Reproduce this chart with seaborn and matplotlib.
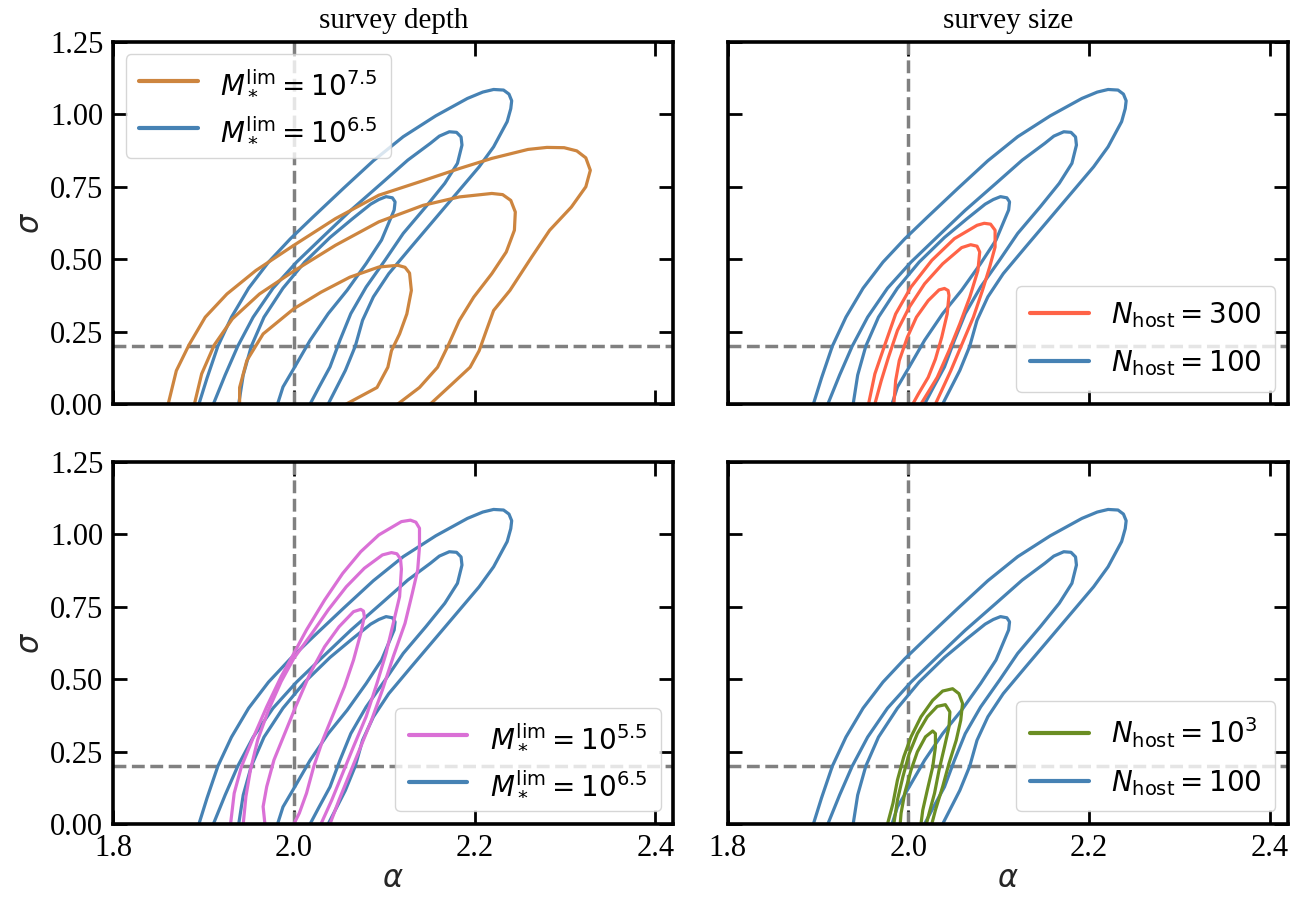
import matplotlib
matplotlib.use("Agg")
import matplotlib.pyplot as plt
from matplotlib.lines import Line2D
from matplotlib.ticker import FormatStrFormatter
import seaborn as sns

# contour outlines: (alpha, sigma) points, outer -> inner level
# baseline run (M_lim = 10^6.5, N_host = 100), shown in every panel
base_alpha = [
    [1.895, 1.904, 1.916, 1.931, 1.950, 1.972, 1.996, 2.021, 2.055, 2.088, 2.121, 2.157, 2.192, 2.209, 2.221, 2.232, 2.238, 2.241, 2.240, 2.236, 2.221, 2.205, 2.180, 2.155, 2.130, 2.105, 2.088, 2.076, 2.068, 2.057, 2.038],
    [1.911, 1.924, 1.938, 1.955, 1.977, 2.003, 2.033, 2.063, 2.097, 2.126, 2.151, 2.161, 2.172, 2.180, 2.185, 2.186, 2.181, 2.167, 2.146, 2.121, 2.101, 2.080, 2.063, 2.051, 2.040, 2.028, 2.018],
    [1.939, 1.944, 1.953, 1.967, 1.988, 2.012, 2.040, 2.065, 2.085, 2.094, 2.102, 2.109, 2.112, 2.111, 2.097, 2.080, 2.059, 2.038, 2.018, 2.001, 1.988, 1.982],
]
base_sigma = [
    [0.0, 0.09, 0.20, 0.30, 0.40, 0.49, 0.57, 0.645, 0.745, 0.84, 0.923, 0.995, 1.055, 1.077, 1.086, 1.084, 1.070, 1.047, 1.020, 0.975, 0.888, 0.819, 0.727, 0.635, 0.543, 0.45, 0.37, 0.289, 0.20, 0.116, 0.0],
    [0.0, 0.10, 0.20, 0.30, 0.40, 0.49, 0.58, 0.669, 0.762, 0.842, 0.900, 0.925, 0.940, 0.938, 0.922, 0.894, 0.831, 0.762, 0.681, 0.589, 0.497, 0.404, 0.312, 0.220, 0.128, 0.059, 0.0],
    [0.0, 0.10, 0.20, 0.30, 0.40, 0.49, 0.575, 0.64, 0.69, 0.706, 0.716, 0.712, 0.698, 0.670, 0.566, 0.485, 0.393, 0.312, 0.220, 0.128, 0.059, 0.0],
]

# M_lim = 10^7.5
deep_alpha = [
    [1.861, 1.870, 1.884, 1.902, 1.926, 1.958, 2.0, 2.046, 2.094, 2.139, 2.183, 2.219, 2.259, 2.280, 2.299, 2.313, 2.323, 2.328, 2.323, 2.307, 2.283, 2.263, 2.239, 2.221, 2.213, 2.205, 2.195, 2.175, 2.151],
    [1.890, 1.898, 1.912, 1.932, 1.962, 2.0, 2.046, 2.094, 2.143, 2.183, 2.219, 2.231, 2.240, 2.245, 2.244, 2.235, 2.219, 2.199, 2.183, 2.171, 2.159, 2.139, 2.115],
    [1.940, 1.940, 1.948, 1.966, 2.0, 2.030, 2.062, 2.094, 2.115, 2.123, 2.128, 2.130, 2.125, 2.117, 2.108, 2.104, 2.092, 2.058],
]
deep_sigma = [
    [0.0, 0.115, 0.204, 0.300, 0.380, 0.461, 0.548, 0.640, 0.721, 0.767, 0.813, 0.848, 0.879, 0.886, 0.885, 0.874, 0.850, 0.807, 0.750, 0.680, 0.600, 0.507, 0.392, 0.323, 0.254, 0.184, 0.127, 0.069, 0.0],
    [0.0, 0.104, 0.204, 0.294, 0.380, 0.459, 0.548, 0.629, 0.686, 0.715, 0.727, 0.723, 0.703, 0.663, 0.600, 0.525, 0.450, 0.369, 0.288, 0.204, 0.127, 0.057, 0.0],
    [0.0, 0.057, 0.150, 0.242, 0.329, 0.386, 0.438, 0.473, 0.479, 0.472, 0.452, 0.392, 0.311, 0.242, 0.184, 0.127, 0.057, 0.0],
]

# N_host = 300
n300_alpha = [
    [1.956, 1.963, 1.974, 1.986, 2.003, 2.026, 2.051, 2.076, 2.084, 2.091, 2.096, 2.096, 2.090, 2.082, 2.072, 2.059, 2.047, 2.030],
    [1.963, 1.970, 1.978, 1.988, 2.001, 2.018, 2.038, 2.059, 2.069, 2.076, 2.079, 2.077, 2.068, 2.057, 2.045, 2.032, 2.014],
    [1.984, 1.986, 1.990, 1.999, 2.009, 2.022, 2.034, 2.040, 2.044, 2.045, 2.043, 2.037, 2.030, 2.022, 2.011, 2.005],
]
n300_sigma = [
    [0.0, 0.104, 0.204, 0.311, 0.404, 0.496, 0.571, 0.617, 0.624, 0.621, 0.600, 0.542, 0.473, 0.392, 0.300, 0.204, 0.115, 0.0],
    [0.0, 0.080, 0.161, 0.254, 0.334, 0.415, 0.484, 0.540, 0.550, 0.545, 0.525, 0.461, 0.369, 0.277, 0.184, 0.092, 0.0],
    [0.0, 0.081, 0.150, 0.231, 0.300, 0.357, 0.394, 0.399, 0.392, 0.375, 0.311, 0.231, 0.155, 0.092, 0.034, 0.0],
]

# M_lim = 10^5.5
shallow_alpha = [
    [1.930, 1.934, 1.942, 1.954, 1.970, 1.986, 2.0, 2.014, 2.034, 2.054, 2.074, 2.094, 2.119, 2.129, 2.135, 2.139, 2.139, 2.137, 2.131, 2.123, 2.110, 2.098, 2.086, 2.074, 2.062, 2.050, 2.040],
    [1.944, 1.947, 1.952, 1.960, 1.972, 1.986, 2.0, 2.020, 2.038, 2.058, 2.078, 2.098, 2.108, 2.114, 2.118, 2.119, 2.117, 2.110, 2.102, 2.092, 2.080, 2.066, 2.054, 2.042, 2.030],
    [1.968, 1.966, 1.970, 1.978, 1.990, 2.002, 2.018, 2.034, 2.050, 2.066, 2.074, 2.077, 2.078, 2.074, 2.066, 2.056, 2.044, 2.032, 2.022, 2.014, 2.006, 2.0],
]
shallow_sigma = [
    [0.0, 0.106, 0.198, 0.290, 0.405, 0.509, 0.589, 0.670, 0.773, 0.865, 0.940, 0.998, 1.044, 1.049, 1.042, 1.021, 0.957, 0.877, 0.796, 0.693, 0.578, 0.463, 0.359, 0.267, 0.175, 0.083, 0.0],
    [0.0, 0.095, 0.187, 0.290, 0.394, 0.492, 0.572, 0.658, 0.739, 0.819, 0.883, 0.929, 0.937, 0.933, 0.915, 0.880, 0.785, 0.693, 0.589, 0.486, 0.371, 0.267, 0.175, 0.083, 0.0],
    [0.0, 0.060, 0.129, 0.221, 0.313, 0.405, 0.520, 0.612, 0.681, 0.733, 0.741, 0.735, 0.716, 0.658, 0.566, 0.474, 0.382, 0.290, 0.198, 0.106, 0.037, 0.0],
]

# N_host = 10^3
n1000_alpha = [
    [1.977, 1.983, 1.988, 1.995, 2.003, 2.014, 2.027, 2.038, 2.049, 2.056, 2.060, 2.058, 2.053, 2.045, 2.038, 2.030, 2.026],
    [1.984, 1.988, 1.994, 2.001, 2.010, 2.021, 2.032, 2.041, 2.046, 2.045, 2.040, 2.034, 2.029, 2.023, 2.020],
    [1.991, 1.992, 1.996, 2.003, 2.010, 2.019, 2.027, 2.030, 2.030, 2.027, 2.021, 2.016, 2.014],
]
n1000_sigma = [
    [0.0, 0.071, 0.152, 0.232, 0.301, 0.370, 0.427, 0.459, 0.467, 0.450, 0.416, 0.358, 0.289, 0.209, 0.129, 0.048, 0.0],
    [0.0, 0.083, 0.163, 0.243, 0.312, 0.370, 0.406, 0.412, 0.387, 0.335, 0.266, 0.186, 0.106, 0.037, 0.0],
    [0.0, 0.037, 0.106, 0.186, 0.249, 0.301, 0.321, 0.312, 0.266, 0.197, 0.117, 0.048, 0.0],
]

titles = ["survey depth", "survey size"]
panel_alpha = [deep_alpha, n300_alpha, shallow_alpha, n1000_alpha]
panel_sigma = [deep_sigma, n300_sigma, shallow_sigma, n1000_sigma]
panel_colors = ["peru", "tomato", "orchid", "olivedrab"]
panel_labels = [r"$M_*^{\rm lim}=10^{7.5}$", r"$N_{\rm host}=300$",
                r"$M_*^{\rm lim}=10^{5.5}$", r"$N_{\rm host}=10^3$"]
base_labels = [r"$M_*^{\rm lim}=10^{6.5}$", r"$N_{\rm host}=100$",
               r"$M_*^{\rm lim}=10^{6.5}$", r"$N_{\rm host}=100$"]
legend_loc = ["upper left", "lower right", "lower right", "lower right"]
base_color = "steelblue"
alpha_true = 2.0
sigma_true = 0.2

sns.set_style("ticks", {"axes.edgecolor": "black", "xtick.color": "black",
                        "ytick.color": "black", "text.color": "black"})
plt.rcParams['font.family'] = ['Liberation Serif', 'DejaVu Serif']
plt.rcParams['mathtext.fontset'] = 'dejavusans'

fig, axes = plt.subplots(2, 2, figsize=(13.04, 8.97), dpi=100, sharex=True, sharey=True)
fig.subplots_adjust(left=0.0867, right=0.9877, top=0.9532, bottom=0.0814, wspace=0.0964, hspace=0.16)

lw = 2.3
for i, ax in enumerate(axes.flat):
    ax.axvline(alpha_true, color="gray", ls="--", lw=2.5, zorder=1)
    ax.axhline(sigma_true, color="gray", ls="--", lw=2.5, zorder=1)
    for k in range(3):
        sns.lineplot(x=base_alpha[k], y=base_sigma[k], sort=False, estimator=None,
                     color=base_color, lw=lw, ax=ax, legend=False)
    for k in range(3):
        sns.lineplot(x=panel_alpha[i][k], y=panel_sigma[i][k], sort=False, estimator=None,
                     color=panel_colors[i], lw=lw, ax=ax, legend=False)
    handles = [Line2D([], [], color=panel_colors[i], lw=3),
               Line2D([], [], color=base_color, lw=3)]
    ax.legend(handles, [panel_labels[i], base_labels[i]], loc=legend_loc[i],
              fontsize=20, handlelength=2.1, borderpad=0.5, labelspacing=0.65,
              handletextpad=0.8, borderaxespad=0.45)

    ax.set_xlim(1.8, 2.42)
    ax.set_ylim(0, 1.25)
    ax.set_xticks([1.8, 2.0, 2.2, 2.4])
    ax.set_yticks([0, 0.25, 0.5, 0.75, 1.0, 1.25])
    ax.xaxis.set_major_formatter(FormatStrFormatter('%.1f'))
    ax.yaxis.set_major_formatter(FormatStrFormatter('%.2f'))
    ax.tick_params(direction="in", length=10, width=2, top=True, right=True,
                   labelsize=22, pad=7)
    for sp in ax.spines.values():
        sp.set_linewidth(2.6)
        sp.set_color("black")
    ax.set_xlabel("")
    ax.set_ylabel("")
    if i < 2:
        ax.set_title(titles[i], fontsize=21, pad=10)
    if i % 2 == 0:
        ax.set_ylabel(r"$\sigma$", fontsize=22, labelpad=3)
    if i >= 2:
        ax.set_xlabel(r"$\alpha$", fontsize=22, labelpad=2)

fig.savefig("out.png", dpi=100)
